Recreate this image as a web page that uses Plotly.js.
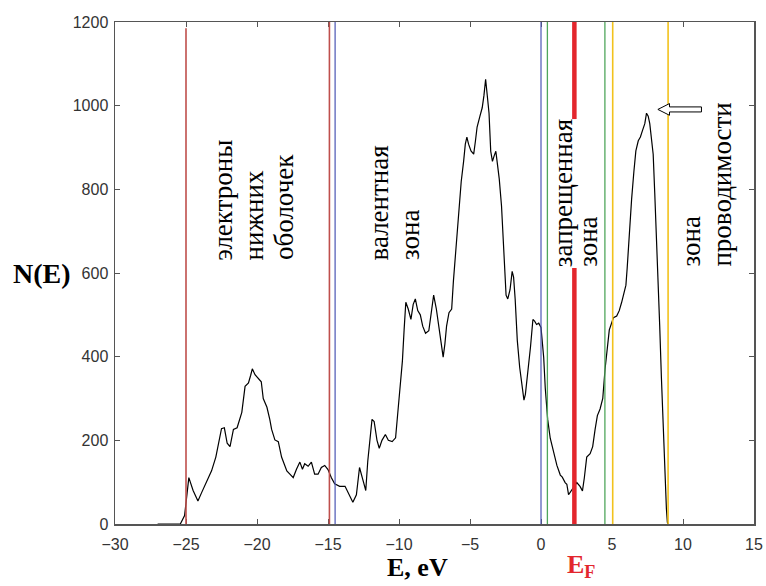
<!DOCTYPE html>
<html>
<head>
<meta charset="utf-8">
<script src="https://cdn.plot.ly/plotly-3.0.1.min.js"></script>
<style>html,body{margin:0;padding:0;background:#fff;}#chart{width:766px;height:586px;}</style>
</head>
<body>
<div id="chart"></div>
<script>
// ---- data ----
var energy = [-27, -25.4, -25.1, -24.8, -24.5, -24.16, -23.9, -23.64, -23.4, -23.2, -22.9, -22.7, -22.5, -22.3, -22.1, -21.9, -21.66, -21.4, -21.07, -20.84, -20.6, -20.45, -20.33, -20.14, -19.9, -19.7, -19.56, -19.3, -19.1, -18.97, -18.74, -18.5, -18.27, -17.9, -17.65, -17.45, -17.22, -16.98, -16.8, -16.64, -16.4, -16.17, -15.94, -15.7, -15.47, -15.23, -15.0, -14.77, -14.53, -14.18, -13.8, -13.48, -13.25, -13.0, -12.78, -12.5, -12.34, -12.2, -11.9, -11.75, -11.55, -11.39, -11.2, -10.96, -10.75, -10.48, -10.24, -10.1, -9.95, -9.76, -9.64, -9.52, -9.35, -9.16, -9.0, -8.85, -8.68, -8.5, -8.33, -8.13, -7.9, -7.73, -7.56, -7.37, -7.18, -7.0, -6.89, -6.77, -6.65, -6.48, -6.29, -6.17, -5.98, -5.81, -5.62, -5.45, -5.33, -5.22, -5.1, -4.93, -4.74, -4.62, -4.5, -4.3, -4.14, -4.02, -3.9, -3.78, -3.66, -3.54, -3.42, -3.3, -3.18, -3.06, -2.94, -2.78, -2.58, -2.46, -2.34, -2.18, -2.03, -1.93, -1.82, -1.67, -1.5, -1.34, -1.2, -1.1, -0.91, -0.74, -0.57, -0.45, -0.31, -0.16, 0, 0.07, 0.19, 0.3, 0.47, 0.65, 0.89, 1.12, 1.36, 1.5, 1.7, 1.82, 1.94, 2.1, 2.29, 2.52, 2.75, 2.92, 3.05, 3.22, 3.46, 3.64, 3.81, 3.97, 4.16, 4.35, 4.51, 4.67, 4.81, 4.98, 5.1, 5.33, 5.51, 5.68, 5.84, 5.98, 6.07, 6.21, 6.38, 6.54, 6.68, 6.85, 7.0, 7.15, 7.31, 7.43, 7.55, 7.66, 7.78, 7.9, 8.01, 8.13, 8.25, 8.36, 8.48, 8.6, 8.72, 8.83, 8.9, 8.95];
var density = [0, 0, 20, 111, 80, 55, 75, 95, 115, 127, 160, 193, 228, 230, 193, 185, 226, 230, 267, 329, 337, 355, 371, 357, 349, 340, 300, 279, 250, 226, 201, 197, 160, 127, 118, 111, 131, 148, 131, 144, 138, 148, 119, 119, 135, 140, 130, 111, 96, 90, 90, 70, 52, 70, 135, 100, 80, 150, 250, 245, 200, 181, 200, 214, 200, 197, 206, 260, 316, 390, 464, 530, 514, 489, 525, 538, 510, 500, 473, 456, 462, 505, 547, 514, 464, 423, 399, 430, 473, 505, 514, 580, 662, 744, 818, 867, 908, 925, 908, 892, 884, 915, 949, 975, 995, 1024, 1063, 1023, 982, 891, 867, 880, 891, 858, 825, 760, 645, 547, 538, 560, 604, 590, 538, 439, 374, 325, 296, 310, 366, 423, 489, 485, 477, 480, 470, 448, 398, 325, 250, 205, 168, 140, 117, 112, 99, 95, 70, 78, 86, 99, 90, 79, 110, 160, 168, 185, 226, 259, 275, 300, 370, 415, 464, 481, 493, 497, 510, 530, 555, 571, 612, 694, 776, 842, 892, 916, 925, 941, 957, 982, 975, 957, 925, 884, 792, 694, 596, 473, 349, 226, 119, 37, 4, 0];

var coreEdges = [-25, -14.9];
var valenceEdges = [-14.5, 0];
var gapEdges = [0.45, 4.5];
var conductionEdges = [5.05, 8.95];
var fermiLevel = 2.35;

var xTickVals = [-30, -25, -20, -15, -10, -5, 0, 5, 10, 15];
var yTickVals = [0, 200, 400, 600, 800, 1000, 1200];

var lowerLabels = ["электроны", "нижних", "оболочек"];
var valenceLabels = ["валентная", "зона"];
var gapLabels = ["запрещенная", "зона"];
var condLabels = ["зона", "проводимости"];

// ---- styling / layout ----
var serif = "Liberation Serif, Times New Roman, serif";
var sans = "Liberation Sans, Arial, sans-serif";

var shapes = [];
function vline(x, color, width, y0, y1) {
  shapes.push({type: "line", xref: "x", yref: "y", x0: x, x1: x, y0: y0, y1: y1,
    line: {color: color, width: width}, layer: "above"});
}
coreEdges.forEach(function (e, i) { vline(e, "#bf4f4c", 1.6, 0, i === 0 ? 1185 : 1200); });
valenceEdges.forEach(function (e) { vline(e, "#4b55b4", 1.2, 0, 1200); });
gapEdges.forEach(function (e) { vline(e, "#4fa65b", 1.3, 0, 1200); });
conductionEdges.forEach(function (e) { vline(e, "#f2c21c", 1.6, 0, 1200); });
vline(fermiLevel, "#e3262d", 4.5, 0, 612);
vline(fermiLevel, "#e3262d", 4.5, 968, 1200);

// hollow arrow pointing to the conduction peak
var tipX = 8.23, tipY = 991, headX = 9.05, endX = 11.3, hh = 14, sh = 6;
shapes.push({type: "path", xref: "x", yref: "y", layer: "above",
  path: "M " + tipX + " " + tipY +
        " L " + headX + " " + (tipY + hh) +
        " L " + headX + " " + (tipY + sh) +
        " L " + endX + " " + (tipY + sh) +
        " L " + endX + " " + (tipY - sh) +
        " L " + headX + " " + (tipY - sh) +
        " L " + headX + " " + (tipY - hh) + " Z",
  fillcolor: "#ffffff", line: {color: "#000", width: 1}});

var annotations = [];
function vtext(txt, x, yBottom) {
  annotations.push({text: txt, x: x, y: yBottom, xref: "x", yref: "y",
    xanchor: "center", yanchor: "bottom", textangle: -90, showarrow: false,
    borderpad: 0, font: {family: serif, size: 27, color: "#000"}});
}
var lowerX = [-22.4, -20.2, -18.05];
lowerLabels.forEach(function (t, i) { vtext(t, lowerX[i], 628); });
var valX = [-11.43, -9.18];
valenceLabels.forEach(function (t, i) { vtext(t, valX[i], 628); });
var gapX = [1.56, 3.3];
gapLabels.forEach(function (t, i) { vtext(t, gapX[i], 612); });
var condX = [10.53, 12.72];
condLabels.forEach(function (t, i) { vtext(t, condX[i], 612); });

annotations.push({text: "<b>N(E)</b>", xref: "paper", yref: "y", x: -0.114, y: 600,
  xanchor: "center", yanchor: "middle", showarrow: false,
  font: {family: serif, size: 28, color: "#000"}});
annotations.push({text: "<b>E, eV</b>", xref: "x", yref: "paper", x: -8.68, y: -0.118,
  xanchor: "center", yanchor: "bottom", showarrow: false, borderpad: 0,
  font: {family: serif, size: 26, color: "#000"}});
annotations.push({text: "<b>E<sub>F</sub></b>", xref: "x", yref: "paper", x: 2.85, y: -0.118,
  xanchor: "center", yanchor: "bottom", showarrow: false, borderpad: 0,
  font: {family: serif, size: 26, color: "#e3262d"}});

var trace = {x: energy, y: density, type: "scatter", mode: "lines",
  line: {color: "#000", width: 1.2}, hoverinfo: "skip"};

var axisCommon = {showgrid: false, zeroline: false, showline: true, linecolor: "#555",
  linewidth: 1.5, mirror: "ticks", ticks: "inside", ticklen: 5, tickcolor: "#555",
  tickfont: {family: sans, size: 16, color: "#333"}};

var layout = {
  width: 766, height: 586,
  margin: {l: 115, r: 12, t: 22, b: 62},
  paper_bgcolor: "#fff", plot_bgcolor: "#fff",
  showlegend: false,
  xaxis: Object.assign({}, axisCommon, {range: [-30, 15], tickvals: xTickVals, ticklabelstandoff: 5}),
  yaxis: Object.assign({}, axisCommon, {range: [0, 1200], tickvals: yTickVals, ticklabelstandoff: 2}),
  shapes: shapes,
  annotations: annotations,
  hovermode: false
};

Plotly.newPlot("chart", [trace], layout, {displayModeBar: false, staticPlot: true});
</script>
</body>
</html>
